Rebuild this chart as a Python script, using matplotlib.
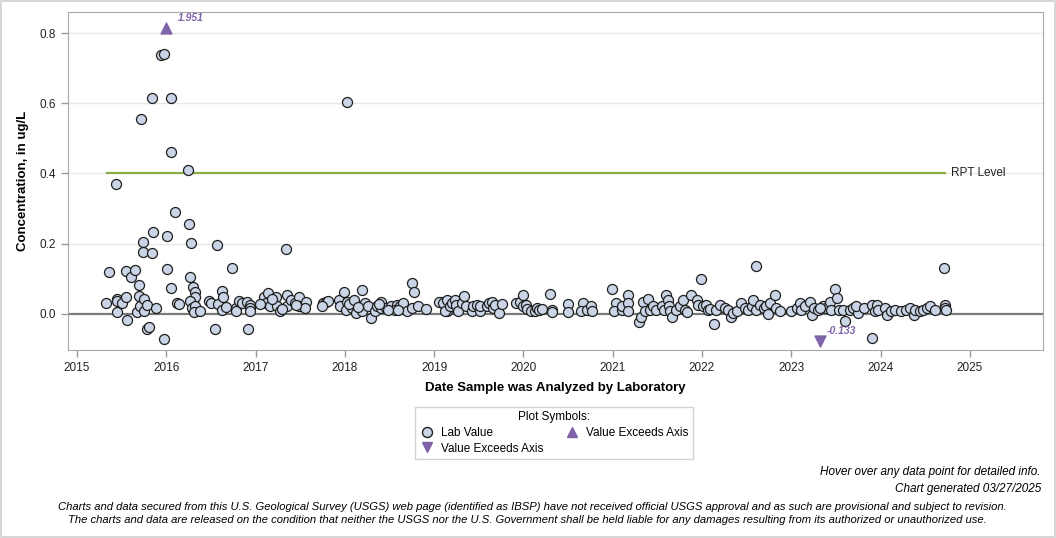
import numpy as np
import matplotlib.pyplot as plt
from matplotlib.lines import Line2D

# decimal year of analysis, concentration (ug/L)
dates = [
    2015.32, 2015.36, 2015.44, 2015.45, 2015.45, 2015.45, 2015.51, 2015.55, 2015.55, 2015.56,
    2015.61, 2015.65, 2015.69, 2015.70, 2015.67, 2015.71, 2015.72, 2015.74, 2015.74, 2015.75,
    2015.75, 2015.79, 2015.79, 2015.81, 2015.84, 2015.85, 2015.84, 2015.89, 2015.94, 2015.97,
    2015.97, 2016.01, 2016.01, 2016.05, 2016.05, 2016.05, 2016.10, 2016.12, 2016.14, 2016.24,
    2016.25, 2016.28, 2016.27, 2016.30, 2016.32, 2016.32, 2016.27, 2016.29, 2016.32, 2016.31,
    2016.38, 2016.48, 2016.50, 2016.55, 2016.57, 2016.58, 2016.63, 2016.64, 2016.63, 2016.67,
    2016.74, 2016.78, 2016.78, 2016.82, 2016.85, 2016.90, 2016.92, 2016.94, 2016.94, 2016.94,
    2017.09, 2017.14, 2017.12, 2017.16, 2017.23, 2017.24, 2017.27, 2017.34, 2017.35, 2017.35,
    2017.40, 2017.44, 2017.49, 2017.49, 2017.56, 2017.55, 2017.76, 2017.79, 2017.81, 2017.75,
    2017.93, 2017.99, 2017.95, 2018.02, 2018.01, 2018.02, 2018.08, 2018.12, 2018.19, 2018.13,
    2018.19, 2018.23, 2018.26, 2018.29, 2018.34, 2018.36, 2018.40, 2018.41, 2018.46, 2018.52,
    2018.58, 2018.56, 2018.62, 2018.65, 2018.70, 2018.75, 2018.75, 2018.77, 2018.82, 2018.91,
    2019.08, 2019.12, 2019.14, 2019.17, 2017.05, 2017.19, 2017.30, 2017.45, 2018.05, 2018.10,
    2018.15, 2018.38, 2018.48, 2018.60,
    2019.06, 2019.10, 2019.12, 2019.14, 2019.18, 2019.20, 2019.23, 2019.25, 2019.27, 2019.31,
    2019.34, 2019.36, 2019.42, 2019.44, 2019.48, 2019.51, 2019.51, 2019.59, 2019.62, 2019.65,
    2019.66, 2019.68, 2019.73, 2019.76, 2019.92, 2019.96, 2020.00, 2020.00, 2020.03, 2020.04,
    2020.09, 2020.13, 2020.15, 2020.18, 2020.21, 2020.30, 2020.32, 2020.32, 2020.50, 2020.50,
    2020.67, 2020.65, 2020.71, 2020.76, 2020.77, 2020.99, 2021.04, 2021.01, 2021.10, 2021.11,
    2021.17, 2021.17, 2021.17,
    2021.30, 2021.32, 2021.34, 2021.36, 2021.40, 2021.42, 2021.45, 2021.49, 2021.55, 2021.57,
    2021.60, 2021.62, 2021.63, 2021.64, 2021.67, 2021.71, 2021.75, 2021.79, 2021.81, 2021.83,
    2021.88, 2021.94, 2021.96, 2021.99, 2022.01, 2022.05, 2022.07, 2022.09, 2022.13, 2022.16,
    2022.20, 2022.26, 2022.29, 2022.33, 2022.35, 2022.39, 2022.44, 2022.48, 2022.52, 2022.56,
    2022.57, 2022.60, 2022.61, 2022.65, 2022.69, 2022.72, 2022.74, 2022.76, 2022.82, 2022.83,
    2022.87, 2023.00, 2023.06, 2023.10, 2023.11, 2023.15, 2023.21, 2023.23, 2023.25, 2023.30,
    2023.36, 2023.39,
    2023.32, 2023.43, 2023.49, 2023.51, 2023.45, 2023.53, 2023.58, 2023.60, 2023.66, 2023.69,
    2023.75, 2023.73, 2023.81, 2023.90, 2023.90, 2023.94, 2023.96, 2023.97, 2024.05, 2024.07,
    2024.12, 2024.16, 2024.23, 2024.29, 2024.33, 2024.37, 2024.39, 2024.44, 2024.48, 2024.52,
    2024.55, 2024.61, 2024.71, 2024.72, 2024.72, 2024.73,
]
values = [
    0.031, 0.120, 0.371, 0.043, 0.037, 0.006, 0.031, 0.123, 0.049, -0.017,
    0.104, 0.126, 0.081, 0.051, 0.005, 0.023, 0.554, 0.205, 0.177, 0.042,
    0.009, 0.026, -0.043, -0.036, 0.614, 0.233, 0.174, 0.017, 0.737, 0.740,
    -0.072, 0.223, 0.129, 0.614, 0.460, 0.074, 0.291, 0.031, 0.029, 0.409,
    0.257, 0.203, 0.106, 0.076, 0.061, 0.049, 0.037, 0.016, 0.023, 0.005,
    0.009, 0.036, 0.031, -0.043, 0.196, 0.028, 0.066, 0.048, 0.012, 0.019,
    0.131, 0.018, 0.009, 0.038, 0.031, 0.033, -0.043, 0.026, 0.016, 0.009,
    0.049, 0.059, 0.031, 0.021, 0.048, 0.021, 0.007, 0.185, 0.054, 0.021,
    0.040, 0.032, 0.048, 0.021, 0.034, 0.016, 0.031, 0.035, 0.038, 0.023,
    0.040, 0.062, 0.023, 0.035, 0.011, 0.605, 0.016, 0.026, 0.069, 0.002,
    0.007, 0.031, 0.021, -0.011, 0.007, 0.021, 0.034, 0.016, 0.016, 0.021,
    0.026, 0.011, 0.021, 0.031, 0.007, 0.016, 0.088, 0.062, 0.021, 0.013,
    0.035, 0.026, 0.007, 0.035, 0.028, 0.042, 0.014, 0.026, 0.028, 0.040,
    0.019, 0.027, 0.010, 0.012,
    0.035, 0.031, 0.007, 0.040, 0.021, 0.031, 0.040, 0.026, 0.007, 0.031,
    0.051, 0.021, 0.007, 0.021, 0.026, 0.007, 0.021, 0.021, 0.031, 0.035,
    0.016, 0.026, 0.002, 0.029, 0.031, 0.035, 0.054, 0.021, 0.026, 0.013,
    0.007, 0.009, 0.016, 0.011, 0.013, 0.057, 0.011, 0.006, 0.029, 0.004,
    0.031, 0.007, 0.011, 0.021, 0.007, 0.071, 0.031, 0.007, 0.011, 0.021,
    0.054, 0.031, 0.007,
    -0.022, -0.008, 0.035, 0.007, 0.042, 0.011, 0.021, 0.011, 0.021, 0.011,
    0.054, 0.040, 0.021, 0.007, -0.008, 0.011, 0.021, 0.040, 0.011, 0.004,
    0.054, 0.040, 0.026, 0.099, 0.021, 0.026, 0.011, 0.013, -0.029, 0.011,
    0.026, 0.016, 0.011, -0.008, 0.002, 0.007, 0.031, 0.016, 0.011, 0.021,
    0.040, 0.137, 0.011, 0.026, 0.016, 0.021, 0.000, 0.031, 0.054, 0.016,
    0.009, 0.007, 0.016, 0.031, 0.011, 0.021, 0.035, -0.003, 0.016, 0.011,
    0.021, 0.016,
    0.016, 0.035, 0.071, 0.045, 0.011, 0.011, 0.011, -0.019, 0.011, 0.016,
    0.002, 0.021, 0.016, 0.026, -0.069, 0.007, 0.026, 0.011, 0.016, -0.003,
    0.007, 0.011, 0.007, 0.011, 0.016, -0.003, 0.011, 0.007, 0.011, 0.016,
    0.021, 0.011, 0.131, 0.026, 0.016, 0.011,
]

# values outside the axis range
exceed_dates = [2016.00, 2023.32]
exceed_values = [1.951, -0.133]

rpt_level = 0.4
rpt_start, rpt_end = 2015.34, 2024.72

ymin, ymax = -0.103, 0.86
xmin, xmax = 2014.90, 2025.82

purple = '#7f63a8'
plt.rcParams['font.family'] = ['Liberation Sans', 'DejaVu Sans']

fig = plt.figure(figsize=(10.56, 5.38), dpi=100)
ax = fig.add_axes([0.0644, 0.3494, 0.9233, 0.6283])

ax.set_xlim(xmin, xmax)
ax.set_ylim(ymin, ymax)

for yv in [0.2, 0.4, 0.6, 0.8]:
    ax.axhline(yv, color='#e8e8e8', lw=1, zorder=0)
ax.axhline(0, color='#7a7a7a', lw=1.6, zorder=1)

ax.plot([rpt_start, rpt_end], [rpt_level, rpt_level], color='#8aac44', lw=1.6, zorder=2)
ax.text(rpt_end + 0.07, rpt_level, 'RPT Level', va='center', ha='left', fontsize=8.5, color='#222222')

ax.scatter(dates, values, s=52, facecolor='#c9d5e6', edgecolor='#1e1e1e', linewidths=0.9, zorder=3)

# exceed-axis markers placed at the axis edges
for d, v in zip(exceed_dates, exceed_values):
    if v > ymax:
        yp = ymax - 0.045
        ax.scatter([d], [yp], marker='^', s=62, color=purple, zorder=4)
        ax.text(d + 0.13, yp + 0.015, '%.3f' % v, color=purple, fontsize=7.5, fontweight='bold',
                style='italic', ha='left', va='bottom')
    else:
        yp = ymin + 0.025
        ax.scatter([d], [yp], marker='v', s=62, color=purple, zorder=4)
        ax.text(d + 0.08, yp + 0.016, '%.3f' % v, color=purple, fontsize=7.5, fontweight='bold',
                style='italic', ha='left', va='bottom')

ax.set_xticks(range(2015, 2026))
ax.set_yticks([0.0, 0.2, 0.4, 0.6, 0.8])
ax.set_yticklabels(['0.0', '0.2', '0.4', '0.6', '0.8'])
ax.tick_params(colors='#9a9a9a', labelcolor='#222222', labelsize=8.5, length=5, width=1)
for sp in ax.spines.values():
    sp.set_color('#a8a8a8')

ax.set_xlabel('Date Sample was Analyzed by Laboratory', fontsize=9.5, fontweight='bold', labelpad=6)
ax.set_ylabel('Concentration, in ug/L', fontsize=9.5, fontweight='bold', labelpad=8)

handles = [
    Line2D([], [], ls='none', marker='o', ms=7.2, mfc='#c9d5e6', mec='#1e1e1e', label='Lab Value'),
    Line2D([], [], ls='none', marker='v', ms=7.2, color=purple, label='Value Exceeds Axis'),
    Line2D([], [], ls='none', marker='^', ms=7.2, color=purple, label='Value Exceeds Axis'),
]
leg = fig.legend(handles=handles, ncol=2, title='Plot Symbols:', loc='center',
                 bbox_to_anchor=(554 / 1056, 1 - 433 / 538), fontsize=8.5, title_fontsize=8.5,
                 frameon=True, fancybox=False, edgecolor='#c8c8c8', handletextpad=0.6,
                 columnspacing=1.8, labelspacing=0.3, borderpad=0.4, handlelength=1.2)
leg.get_frame().set_linewidth(1)

foot = ['Liberation Sans Narrow', 'Liberation Sans', 'DejaVu Sans']
fig.text(1041 / 1056, 1 - 472 / 538, 'Hover over any data point for detailed info.', ha='right', va='center',
         fontsize=8.5, style='italic', family=foot)
fig.text(1041 / 1056, 1 - 489 / 538, 'Chart generated 03/27/2025', ha='right', va='center',
         fontsize=8.5, style='italic', family=foot)
fig.text(532 / 1056, 1 - 507 / 538,
         'Charts and data secured from this U.S. Geological Survey (USGS) web page (identified as IBSP) have not received official USGS approval and as such are provisional and subject to revision.',
         ha='center', va='center', fontsize=8.1, style='italic', family=foot)
fig.text(527 / 1056, 1 - 520 / 538,
         'The charts and data are released on the condition that neither the USGS nor the U.S. Government shall be held liable for any damages resulting from its authorized or unauthorized use.',
         ha='center', va='center', fontsize=8.1, style='italic', family=foot)

fig.patches.append(plt.Rectangle((0.001, 0.001), 0.998, 0.997, transform=fig.transFigure,
                                 fill=False, edgecolor='#cfcfcf', lw=1.2))

fig.savefig('out.png', dpi=100)
